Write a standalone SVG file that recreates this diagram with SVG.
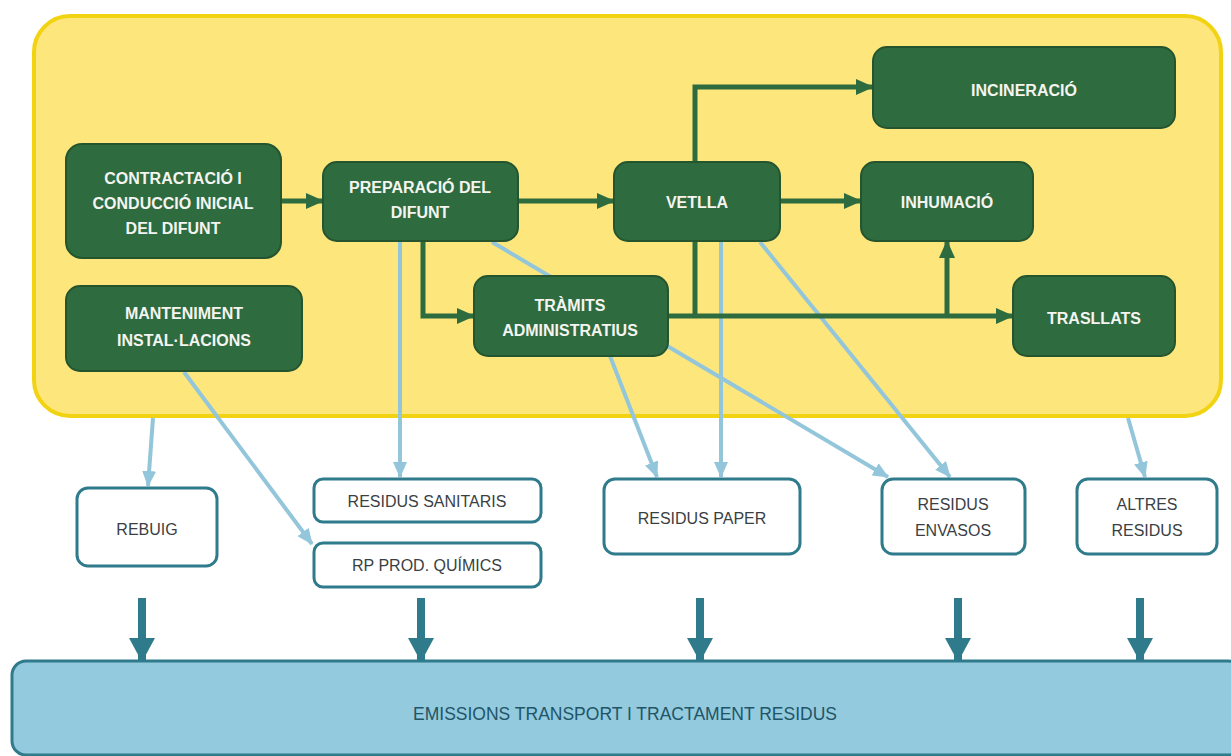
<svg xmlns="http://www.w3.org/2000/svg" width="1231" height="756" viewBox="0 0 1231 756">
<defs>
<style>
.green{fill:#2e6b3e;stroke:#24552f;stroke-width:2}
.gt{fill:#f4f4f0;font-family:"Liberation Sans",Arial,sans-serif;font-weight:bold;font-size:16px;text-anchor:middle}
.gl{fill:none;stroke:#2e6b3e;stroke-width:5}
.bl{fill:none;stroke:#93c6da;stroke-width:4}
.wb{fill:#ffffff;stroke:#2f7b8c;stroke-width:3}
.wt{fill:#3a3f44;font-family:"Liberation Sans",Arial,sans-serif;font-size:16px;text-anchor:middle}
.tl{fill:none;stroke:#2f7b8c;stroke-width:8}
</style>
<marker id="ga" markerUnits="userSpaceOnUse" markerWidth="18" markerHeight="18" viewBox="0 0 18 18" refX="17" refY="9" orient="auto">
<path d="M0 1 L18 9 L0 17 Z" fill="#2e6b3e"/>
</marker>
<marker id="ba" markerUnits="userSpaceOnUse" markerWidth="16" markerHeight="14" viewBox="0 0 16 14" refX="15" refY="7" orient="auto">
<path d="M0 0 L16 7 L0 14 Z" fill="#93c6da"/>
</marker>
<marker id="ta" markerUnits="userSpaceOnUse" markerWidth="24" markerHeight="26" viewBox="0 0 24 26" refX="23" refY="13" orient="auto">
<path d="M0 0 L24 13 L0 26 Z" fill="#2f7b8c"/>
</marker>
</defs>
<rect width="1231" height="756" fill="#ffffff"/>
<g id="container">
<rect x="34" y="16" width="1187" height="400" rx="36" fill="#fde67c" stroke="#f2d312" stroke-width="4"/>
</g>
<g id="connectors">
<g id="waste-links">
<line class="bl" x1="153" y1="418" x2="148" y2="486" marker-end="url(#ba)"/>
<line class="bl" x1="184" y1="372" x2="312" y2="544" marker-end="url(#ba)"/>
<line class="bl" x1="400" y1="242" x2="400" y2="477" marker-end="url(#ba)"/>
<line class="bl" x1="492" y1="242" x2="888" y2="477" marker-end="url(#ba)"/>
<line class="bl" x1="610" y1="356" x2="657" y2="477" marker-end="url(#ba)"/>
<line class="bl" x1="721" y1="242" x2="721" y2="477" marker-end="url(#ba)"/>
<line class="bl" x1="760" y1="242" x2="950" y2="477" marker-end="url(#ba)"/>
<line class="bl" x1="1128" y1="418" x2="1145" y2="477" marker-end="url(#ba)"/>
</g>
<g id="process-links">
<line class="gl" x1="281" y1="201" x2="323" y2="201" marker-end="url(#ga)"/>
<line class="gl" x1="518" y1="201" x2="614" y2="201" marker-end="url(#ga)"/>
<path class="gl" d="M423 241 V316 H474" marker-end="url(#ga)"/>
<path class="gl" d="M695 162 V87 H873" marker-end="url(#ga)"/>
<line class="gl" x1="780" y1="201" x2="861" y2="201" marker-end="url(#ga)"/>
<path class="gl" d="M695 241 V316"/>
<line class="gl" x1="668" y1="316" x2="1013" y2="316" marker-end="url(#ga)"/>
<line class="gl" x1="947" y1="316" x2="947" y2="241" marker-end="url(#ga)"/>
</g>
<g id="emission-links">
<line class="tl" x1="142" y1="598" x2="142" y2="661" marker-end="url(#ta)"/>
<line class="tl" x1="421" y1="598" x2="421" y2="661" marker-end="url(#ta)"/>
<line class="tl" x1="700" y1="598" x2="700" y2="661" marker-end="url(#ta)"/>
<line class="tl" x1="958" y1="598" x2="958" y2="661" marker-end="url(#ta)"/>
<line class="tl" x1="1140" y1="598" x2="1140" y2="661" marker-end="url(#ta)"/>
</g>
</g>
<g id="contractacio">
<rect class="green" x="66" y="144" width="215" height="114" rx="16"/>
<text class="gt" x="173" y="184">CONTRACTACIÓ I</text>
<text class="gt" x="173" y="209">CONDUCCIÓ INICIAL</text>
<text class="gt" x="173" y="234">DEL DIFUNT</text>
</g>
<g id="preparacio">
<rect class="green" x="323" y="162" width="195" height="79" rx="14"/>
<text class="gt" x="420" y="193">PREPARACIÓ DEL</text>
<text class="gt" x="420" y="218">DIFUNT</text>
</g>
<g id="vetlla">
<rect class="green" x="614" y="162" width="166" height="79" rx="14"/>
<text class="gt" x="697" y="208">VETLLA</text>
</g>
<g id="incineracio">
<rect class="green" x="873" y="47" width="302" height="81" rx="14"/>
<text class="gt" x="1024" y="96">INCINERACIÓ</text>
</g>
<g id="inhumacio">
<rect class="green" x="861" y="162" width="172" height="79" rx="14"/>
<text class="gt" x="947" y="208">INHUMACIÓ</text>
</g>
<g id="trasllats">
<rect class="green" x="1013" y="276" width="162" height="80" rx="14"/>
<text class="gt" x="1094" y="324">TRASLLATS</text>
</g>
<g id="manteniment">
<rect class="green" x="66" y="286" width="236" height="85" rx="14"/>
<text class="gt" x="184" y="319">MANTENIMENT</text>
<text class="gt" x="184" y="346">INSTAL·LACIONS</text>
</g>
<g id="tramits">
<rect class="green" x="474" y="276" width="194" height="80" rx="14"/>
<text class="gt" x="570" y="311">TRÀMITS</text>
<text class="gt" x="570" y="336">ADMINISTRATIUS</text>
</g>
<g id="rebuig">
<rect class="wb" x="77" y="488" width="140" height="78" rx="11"/>
<text class="wt" x="147" y="535">REBUIG</text>
</g>
<g id="residus-sanitaris">
<rect class="wb" x="314" y="479" width="227" height="43" rx="9"/>
<text class="wt" x="427" y="507">RESIDUS SANITARIS</text>
</g>
<g id="rp-prod-quimics">
<rect class="wb" x="314" y="543" width="227" height="44" rx="9"/>
<text class="wt" x="427" y="571">RP PROD. QUÍMICS</text>
</g>
<g id="residus-paper">
<rect class="wb" x="604" y="479" width="196" height="75" rx="11"/>
<text class="wt" x="702" y="524">RESIDUS PAPER</text>
</g>
<g id="residus-envasos">
<rect class="wb" x="882" y="479" width="143" height="75" rx="11"/>
<text class="wt" x="953" y="510">RESIDUS</text>
<text class="wt" x="953" y="536">ENVASOS</text>
</g>
<g id="altres-residus">
<rect class="wb" x="1077" y="479" width="140" height="75" rx="11"/>
<text class="wt" x="1147" y="510">ALTRES</text>
<text class="wt" x="1147" y="536">RESIDUS</text>
</g>
<g id="emissions">
<rect x="12" y="661" width="1230" height="94" rx="14" fill="#93cadd" stroke="#2f7b8c" stroke-width="3"/>
<text x="625" y="720" fill="#1f5568" font-family="'Liberation Sans',Arial,sans-serif" font-size="17.5" text-anchor="middle">EMISSIONS TRANSPORT I TRACTAMENT RESIDUS</text>
</g>
</svg>
